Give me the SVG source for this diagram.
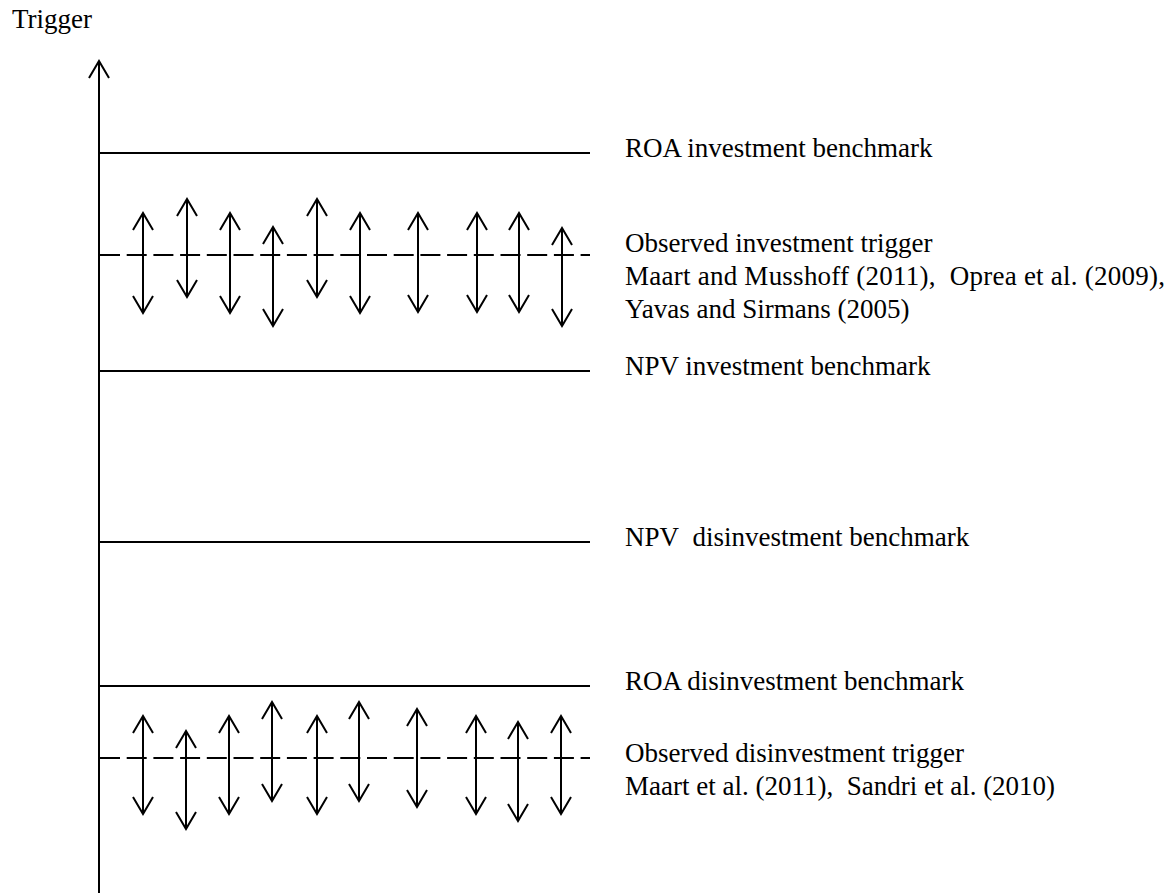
<svg xmlns="http://www.w3.org/2000/svg" width="1172" height="893" viewBox="0 0 1172 893">
<style>
.ln{stroke:#000;stroke-width:2;fill:none}
.dash{stroke:#000;stroke-width:2;fill:none;stroke-dasharray:20 6.7}
.arr{stroke:#000;stroke-width:2;fill:none;marker-start:url(#hd);marker-end:url(#hd)}
.t{font-family:"Liberation Serif","Times New Roman",serif;font-size:27px;fill:#000}
</style>
<defs>
<marker id="hd" viewBox="-20 -12 24 24" refX="0" refY="0" markerWidth="24" markerHeight="24" markerUnits="userSpaceOnUse" orient="auto-start-reverse" overflow="visible">
<path d="M-17,-10 L0,0 L-17,10" fill="none" stroke="#000" stroke-width="2"/>
</marker>
</defs>
<g id="axis">
<line class="ln" x1="99" y1="61" x2="99" y2="893"/>
<path class="ln" d="M89,78 L99,61 L109,78"/>
<text class="t" x="12" y="28">Trigger</text>
</g>
<g id="roa-investment">
<line class="ln" x1="99" y1="153" x2="590" y2="153"/>
<text class="t" x="625" y="157">ROA investment benchmark</text>
</g>
<g id="observed-investment">
<line class="dash" x1="100" y1="255" x2="590" y2="255"/>
<text class="t" x="625" y="252">Observed investment trigger</text>
<text class="t" x="625" y="285" textLength="540" lengthAdjust="spacing">Maart and Musshoff (2011),&#160; Oprea et al. (2009),</text>
<text class="t" x="625" y="318">Yavas and Sirmans (2005)</text>
</g>
<g id="npv-investment">
<line class="ln" x1="99" y1="371" x2="590" y2="371"/>
<text class="t" x="625" y="375">NPV investment benchmark</text>
</g>
<g id="npv-disinvestment">
<line class="ln" x1="99" y1="542" x2="590" y2="542"/>
<text class="t" x="625" y="546">NPV&#160; disinvestment benchmark</text>
</g>
<g id="roa-disinvestment">
<line class="ln" x1="99" y1="686" x2="590" y2="686"/>
<text class="t" x="625" y="690">ROA disinvestment benchmark</text>
</g>
<g id="observed-disinvestment">
<line class="dash" x1="100" y1="758" x2="590" y2="758"/>
<text class="t" x="625" y="762">Observed disinvestment trigger</text>
<text class="t" x="625" y="795">Maart et al. (2011),&#160; Sandri et al. (2010)</text>
</g>
<g id="connectors">
<line class="arr" x1="143" y1="213" x2="143" y2="313"/>
<line class="arr" x1="187" y1="199" x2="187" y2="297"/>
<line class="arr" x1="230" y1="213" x2="230" y2="313"/>
<line class="arr" x1="273" y1="227" x2="273" y2="326"/>
<line class="arr" x1="317" y1="199" x2="317" y2="297"/>
<line class="arr" x1="360" y1="213" x2="360" y2="313"/>
<line class="arr" x1="418" y1="213" x2="418" y2="312"/>
<line class="arr" x1="477" y1="213" x2="477" y2="312"/>
<line class="arr" x1="519" y1="213" x2="519" y2="312"/>
<line class="arr" x1="562" y1="228" x2="562" y2="326"/>
<line class="arr" x1="143" y1="716" x2="143" y2="814"/>
<line class="arr" x1="186" y1="731" x2="186" y2="829"/>
<line class="arr" x1="229" y1="716" x2="229" y2="814"/>
<line class="arr" x1="272" y1="702" x2="272" y2="801"/>
<line class="arr" x1="317" y1="716" x2="317" y2="814"/>
<line class="arr" x1="359" y1="702" x2="359" y2="801"/>
<line class="arr" x1="417" y1="709" x2="417" y2="807"/>
<line class="arr" x1="476" y1="716" x2="476" y2="814"/>
<line class="arr" x1="518" y1="722" x2="518" y2="821"/>
<line class="arr" x1="561" y1="716" x2="561" y2="814"/>
</g>
</svg>
